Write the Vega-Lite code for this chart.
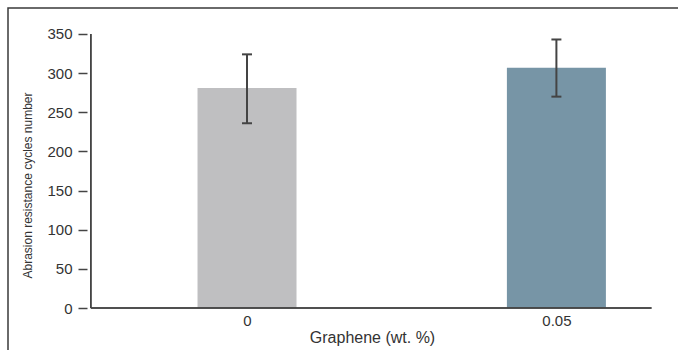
{
  "$schema": "https://vega.github.io/schema/vega-lite/v6.json",
  "width": 680,
  "height": 344,
  "autosize": {"type": "none"},
  "padding": {"left": 8, "top": 8, "right": 0, "bottom": 0},
  "background": "white",
  "config": {
    "view": {"stroke": "#3a3a3a", "strokeWidth": 1.5},
    "font": "Liberation Sans",
    "axis": {"labelFont": "Liberation Sans", "titleFont": "Liberation Sans", "grid": false}
  },
  "data": {
    "values": [
      {"graphene": 0, "mean": 281, "lo": 236, "hi": 324},
      {"graphene": 0.05, "mean": 307, "lo": 270, "hi": 343}
    ]
  },
  "layer": [
    {
      "mark": {"type": "bar", "width": 99},
      "encoding": {
        "x": {
          "field": "graphene",
          "type": "quantitative",
          "scale": {"domain": [-0.03782, 0.07046], "nice": false, "zero": false},
          "axis": {
            "orient": "bottom",
            "offset": -44,
            "values": [0, 0.05],
            "format": "~g",
            "domain": false,
            "ticks": false,
            "tickSize": 0,
            "labelPadding": 5,
            "labelFontSize": 15,
            "labelColor": "#333333",
            "title": "Graphene (wt. %)",
            "titleFontSize": 16,
            "titleFontWeight": "normal",
            "titleColor": "#333333",
            "titleX": 364,
            "titleY": 34,
            "titleAnchor": "middle",
            "titleAlign": "center",
            "titleBaseline": "alphabetic"
          }
        },
        "y": {
          "field": "mean",
          "type": "quantitative",
          "scale": {"domain": [-56.2, 383.21], "nice": false, "zero": false},
          "axis": {
            "orient": "left",
            "offset": -79,
            "values": [0, 50, 100, 150, 200, 250, 300, 350],
            "domain": false,
            "tickSize": 9,
            "tickColor": "#444444",
            "tickWidth": 1.5,
            "labelPadding": 6,
            "labelFontSize": 15,
            "labelColor": "#333333",
            "title": "Abrasion resistance cycles number",
            "titleFontSize": 12,
            "titleFontWeight": "normal",
            "titleColor": "#333333",
            "titleX": -60,
            "titleY": 177,
            "titleAngle": -90,
            "titleAlign": "center",
            "titleBaseline": "middle"
          }
        },
        "color": {
          "field": "graphene",
          "type": "nominal",
          "scale": {"range": ["#bfbfc1", "#7795a6"]},
          "legend": null
        }
      }
    },
    {
      "mark": {"type": "rule", "color": "#444444", "strokeWidth": 2},
      "encoding": {
        "x": {"field": "graphene", "type": "quantitative"},
        "y": {"field": "lo", "type": "quantitative"},
        "y2": {"field": "hi"}
      }
    },
    {
      "mark": {"type": "tick", "orient": "horizontal", "color": "#444444", "size": 10, "thickness": 2, "opacity": 1},
      "encoding": {
        "x": {"field": "graphene", "type": "quantitative"},
        "y": {"field": "lo", "type": "quantitative"}
      }
    },
    {
      "mark": {"type": "tick", "orient": "horizontal", "color": "#444444", "size": 10, "thickness": 2, "opacity": 1},
      "encoding": {
        "x": {"field": "graphene", "type": "quantitative"},
        "y": {"field": "hi", "type": "quantitative"}
      }
    },
    {
      "mark": {"type": "rule", "color": "#444444", "strokeWidth": 1.5},
      "encoding": {
        "x": {"datum": -0.02524, "type": "quantitative"},
        "y": {"datum": 0, "type": "quantitative"},
        "y2": {"datum": 350}
      }
    },
    {
      "mark": {"type": "rule", "color": "#444444", "strokeWidth": 1.5},
      "encoding": {
        "x": {"datum": -0.02524, "type": "quantitative"},
        "x2": {"datum": 0.06537},
        "y": {"datum": 0, "type": "quantitative"}
      }
    }
  ]
}
